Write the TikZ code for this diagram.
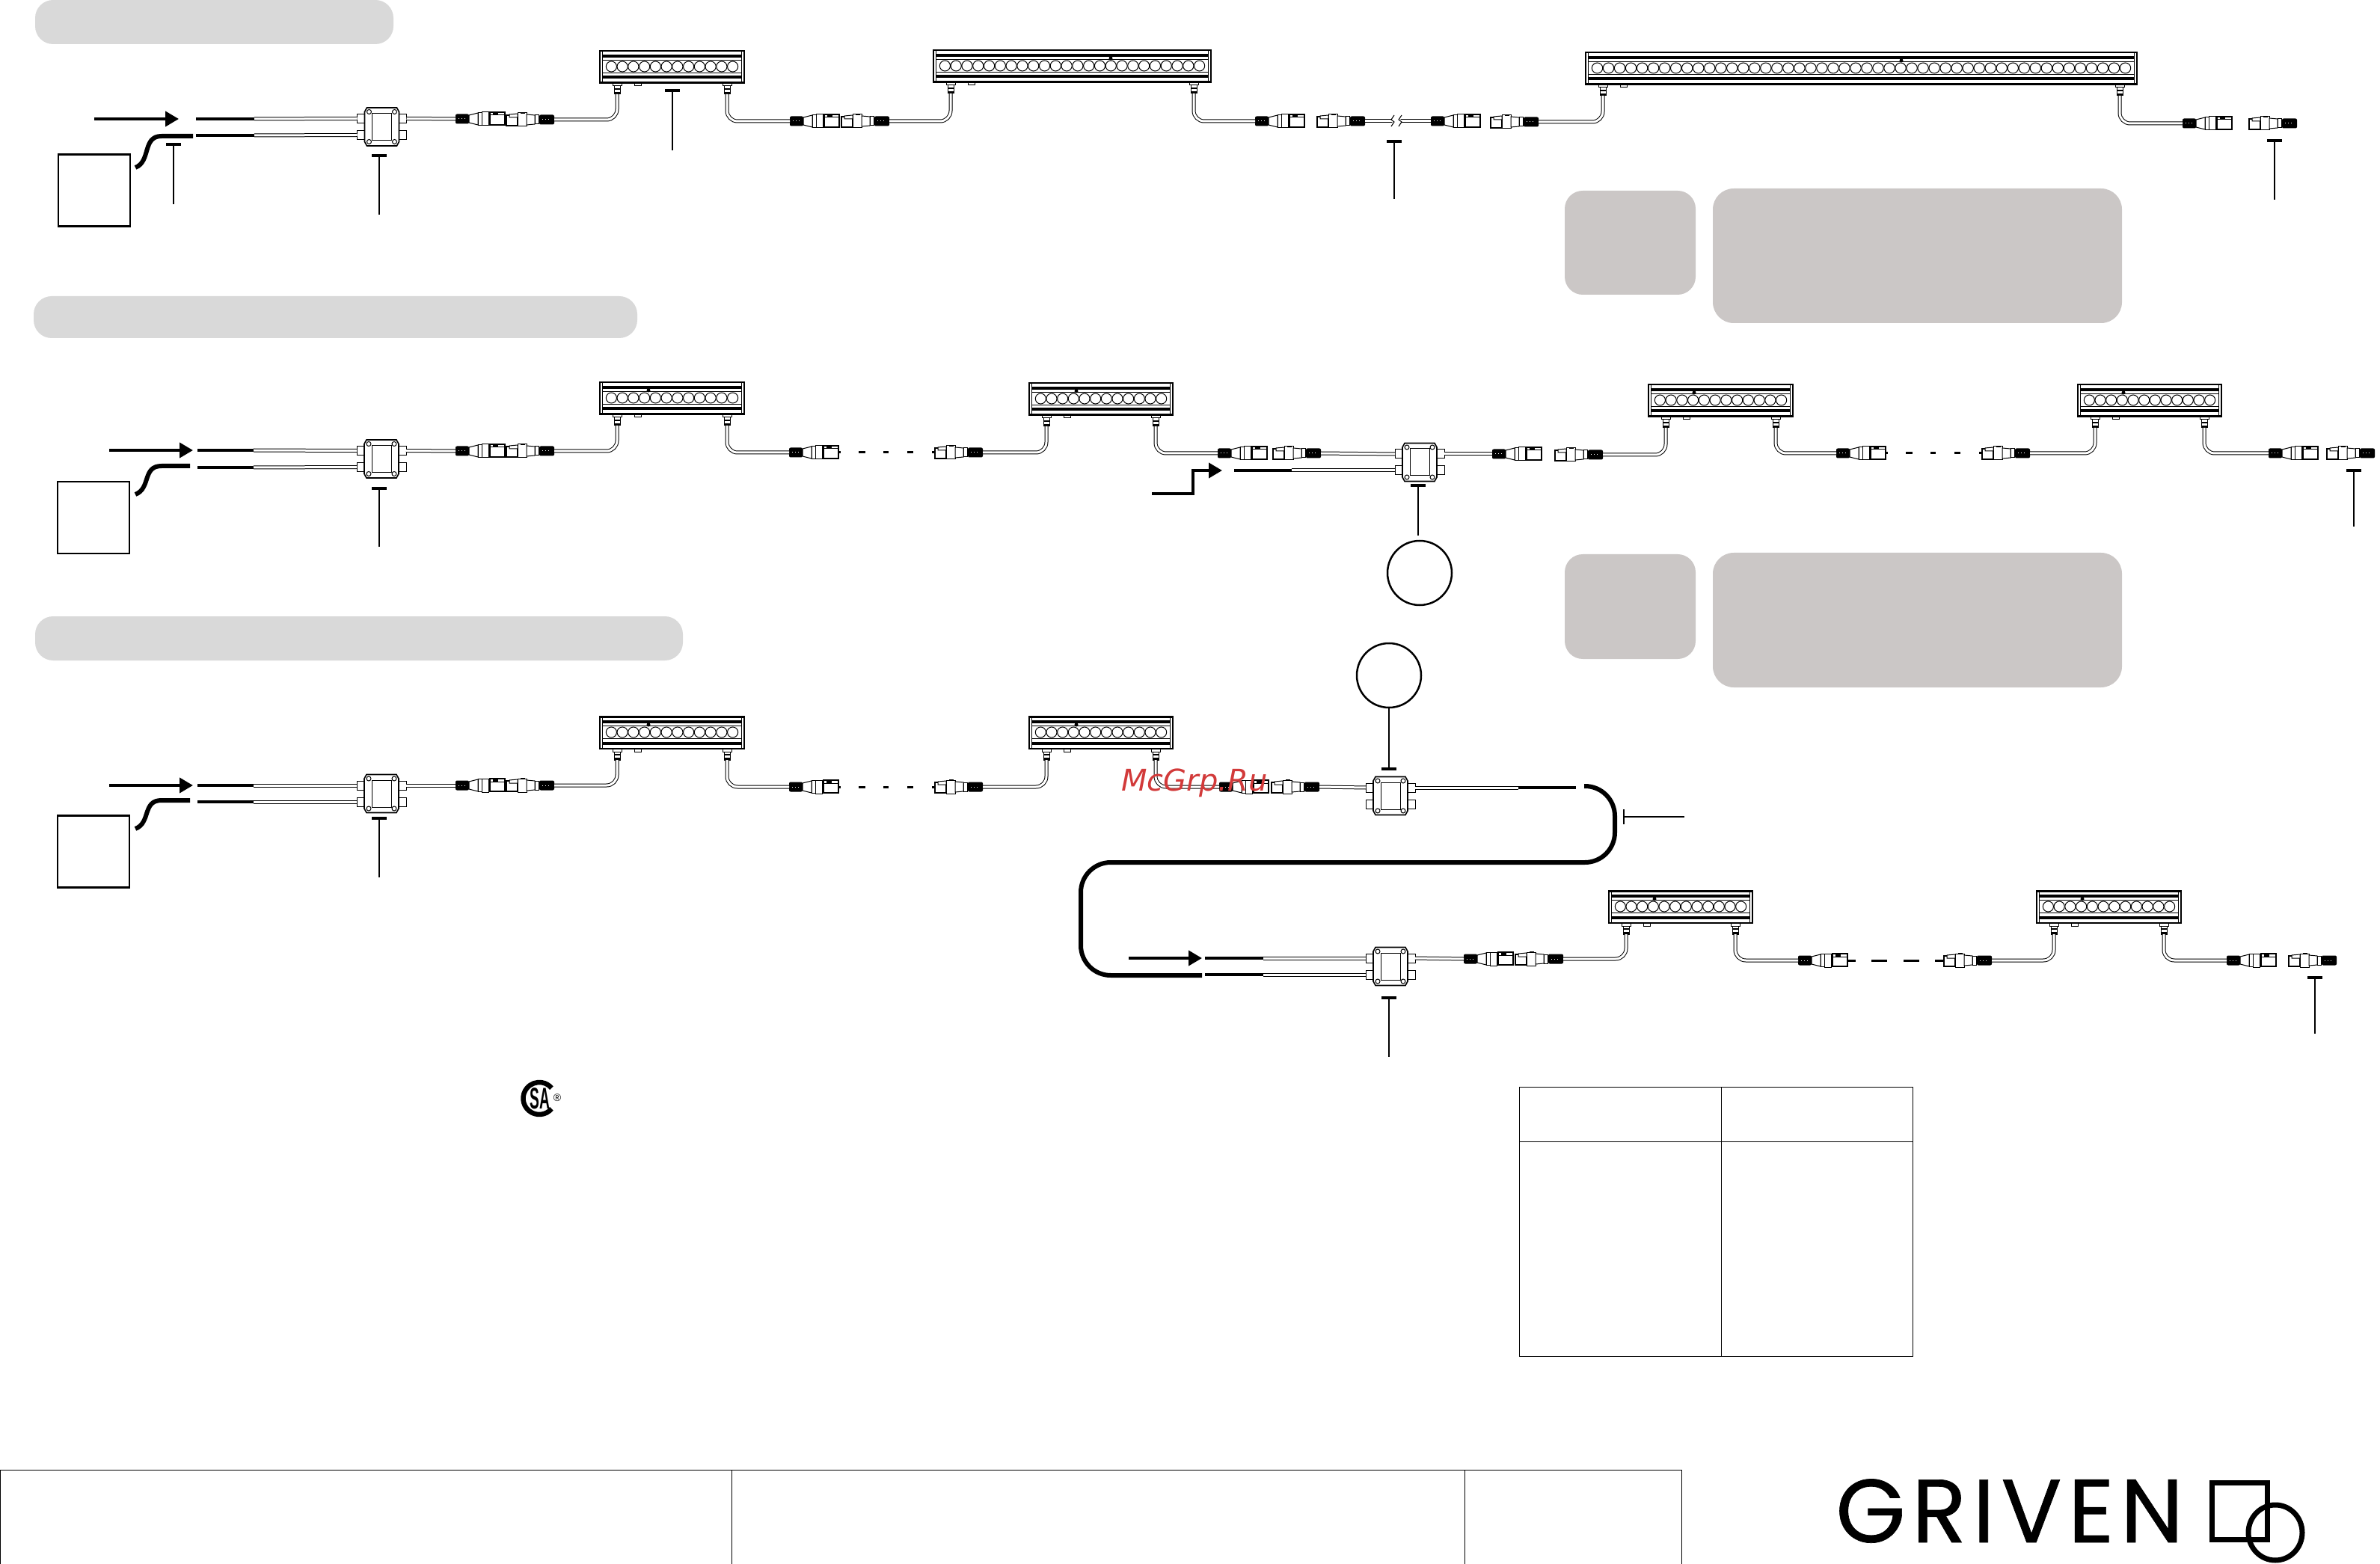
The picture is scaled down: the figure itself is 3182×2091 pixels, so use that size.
\documentclass[tikz,border=0pt]{standalone}
\usepackage{fontspec}
\setmainfont{Liberation Sans}
\newfontfamily\logofont[LetterSpace=7,FakeBold=0.6]{Poppins}
\newfontfamily\wmfont{DejaVu Sans}
\usetikzlibrary{arrows.meta,calc}
\definecolor{pillc}{HTML}{D9D9D9}
\definecolor{notec}{HTML}{CBC7C6}
\definecolor{wmc}{HTML}{D23A3A}
\tikzset{
  hair/.style={line width=.5pt,draw=black,fill=white},
  cable/.style={draw=black,line width=.5pt,double=white,double distance=1.5pt},
  tail/.style={draw=black,line width=2pt},
  pw/.style={draw=black,line width=3pt},
  arw/.style={draw=black,line width=2pt,-{Triangle[length=9pt,width=10pt]}},
  ldr/.style={draw=black,line width=1pt,{Bar[width=10pt,line width=2pt]}-},
  dashseg/.style={draw=black,line width=1.5pt},
  hoop/.style={circle,draw=black,line width=1.25pt,minimum size=43pt,inner sep=0pt},
  srcbox/.style={rectangle,draw=black,line width=1.25pt,minimum width=48pt,minimum height=48pt,inner sep=0pt},
  tline/.style={draw=black,line width=.5pt}
}
% male connector
\newcommand{\Mconn}[3]{%
\coordinate (#1in) at (#2,#3);\coordinate (#1out) at ($(#2,#3)+(66,0)$);
\begin{scope}[shift={(#2,#3)}]
\fill[black,rounded corners=1pt] (0,-6.5) rectangle (18,6.5);
\foreach \dx in {4,8,12}{\fill[white] (\dx,-.5) rectangle ++(1,1);}
\filldraw[hair] (18,-5) -- (30,-8) -- (30,8) -- (18,5) -- cycle;
\filldraw[hair] (30,-8.5) rectangle (35,8.5);
\filldraw[hair] (35,-9) rectangle (44,9);
\filldraw[hair,line width=.7pt] (46,-9) rectangle (66,8);
\draw[hair] (46,-5) -- (66,-5);
\fill[black] (50,-8.5) rectangle (57,-5.5);
\end{scope}}
% female connector
\newcommand{\Fconn}[3]{%
\coordinate (#1in) at (#2,#3);\coordinate (#1out) at ($(#2,#3)+(64,0)$);
\begin{scope}[shift={(#2,#3)}]
\filldraw[hair,line width=.8pt] (0,-6) rectangle (15,8);
\draw[hair] (4,-7) -- (15,-8) -- (15,-3) -- (4,-3) -- cycle;
\filldraw[hair] (15,-9) rectangle (27,9);
\fill[black] (19,-10) rectangle (25,-8);
\filldraw[hair] (27,-7) -- (38,-6) -- (38,6) -- (27,7) -- cycle;
\filldraw[hair] (38,-6) rectangle (43,6);
\fill[black,rounded corners=1pt] (44,-6.5) rectangle (64,6.5);
\foreach \dx in {48,52,56}{\fill[white] (\dx,-.5) rectangle ++(1,1);}
\end{scope}}
% junction box
\newcommand{\Jbox}[3]{%
\coordinate (#1L1) at ($(#2,#3)+(-33,-11)$);\coordinate (#1L2) at ($(#2,#3)+(-33,11)$);
\coordinate (#1R1) at ($(#2,#3)+(33,-11)$);\coordinate (#1R2) at ($(#2,#3)+(33,11)$);
\coordinate (#1T) at ($(#2,#3)+(-2,-25)$);\coordinate (#1B) at ($(#2,#3)+(-2,25)$);
\begin{scope}[shift={(#2,#3)}]
\foreach \yy in {-11,11}{
 \filldraw[hair] (-33,\yy-6) rectangle (-23,\yy+6);
 \filldraw[hair] (23,\yy-6) rectangle (33,\yy+6);}
\filldraw[hair,line width=.8pt] (-20,-25.5) -- (20,-25.5) -- (23,-20) -- (23,20) -- (20,25.5) -- (-20,25.5) -- (-23,20) -- (-23,-20) -- cycle;
\draw[hair] (-13,-18) rectangle (13,18);
\foreach \xx in {-17,17}\foreach \yy in {-20,20}{
 \filldraw[hair] (\xx,\yy) circle[radius=3];}
\end{scope}}
% fixture: name, x, y, width, leds, dot offset (0 = none)
\newcommand{\Fix}[6]{%
\coordinate (#1a) at ($(#2,#3)+(23,58)$);\coordinate (#1b) at ($(#2,#3)+(#4,0)+(-23,58)$);
\begin{scope}[shift={(#2,#3)}]
\foreach \sx in {23,#4-23}{
 \begin{scope}[shift={(\sx,0)}]
 \filldraw[hair] (-6,43) rectangle (6,47);
 \filldraw[hair] (-4,47) rectangle (4,58);
 \fill[black] (-4.5,50) rectangle (4.5,52);
 \fill[black] (-4.5,55) rectangle (4.5,58);
 \end{scope}}
\filldraw[hair] (46,43) rectangle (55,47);
\filldraw[hair,line width=.8pt] (0,0) rectangle (#4,43);
\draw[hair] (3.5,0) -- (3.5,43);
\draw[hair] (#4-3.5,0) -- (#4-3.5,43);
\fill[black] (0,0) rectangle (#4,1.5);
\fill[black] (0,41.5) rectangle (#4,43);
\fill[black] (3.5,5) rectangle (#4-3.5,9);
\draw[hair] (3.5,12.5) -- (#4-3.5,12.5);
\draw[hair] (3.5,29.5) -- (#4-3.5,29.5);
\fill[black] (3.5,33.5) rectangle (#4-3.5,37.5);
\pgfmathsetmacro{\ledstep}{(#4-16)/#5}
\pgfmathsetmacro{\ledrx}{\ledstep*.48}
\foreach \i in {1,...,#5}{
 \draw[hair] ({8+(\i-.5)*\ledstep},21) ellipse[x radius=\ledrx,y radius=7];}
\ifnum#6>0 \fill[black] (#6,11) circle[radius=2.5];\fi
\end{scope}}
\begin{document}
\begin{tikzpicture}[x=.5pt,y=-.5pt]
\useasboundingbox (0,0) rectangle (3182,2091);
% section bands
\fill[pillc,rounded corners=12pt] (47,0) rectangle (526,59);
\fill[pillc,rounded corners=12pt] (45,396) rectangle (852,452);
\fill[pillc,rounded corners=12pt] (47,824) rectangle (913,883);
% note panels
\fill[notec,rounded corners=12pt] (2092,255) rectangle (2267,394);
\fill[notec,rounded corners=14pt] (2290,252) rectangle (2837,432);
\fill[notec,rounded corners=12pt] (2092,741) rectangle (2267,881);
\fill[notec,rounded corners=14pt] (2290,739) rectangle (2837,919);

% ===== section 1 =====
\node[srcbox] (boxa) at (126,254.5) {};
\coordinate (pa1) at (181,224);\coordinate (pa2) at (258,182);
\draw[pw] (pa1) .. controls (202,216) and (190,182) .. (216,182) -- (pa2);
\coordinate (aa1) at (126,159);\coordinate (aa2) at (239,159);
\draw[arw] (aa1) -- (aa2);
\Jbox{ja}{510.5}{169.5}
\coordinate (ta1) at (262,159);\coordinate (ta2) at (340,159);
\coordinate (tb1) at (262,181);\coordinate (tb2) at (340,181);
\draw[tail] (ta1) -- (ta2);\draw[tail] (tb1) -- (tb2);
\draw[cable] (ta2) -- (jaL1);\draw[cable] (tb2) -- (jaL2);
\Mconn{ma1}{609}{159}\Fconn{fa1}{677}{160}
\draw[cable] (jaR1) -- (ma1in);
\Fix{xa1}{802}{68}{193}{12}{0}
\draw[cable,rounded corners=7pt] (fa1out) -| (xa1a);
\Mconn{ma2}{1056}{162}\Fconn{fa2}{1125}{162}
\draw[cable,rounded corners=7pt] (xa1b) |- (ma2in);
\Fix{xa2}{1248}{67}{371}{24}{237}
\draw[cable,rounded corners=7pt] (fa2out) -| (xa2a);
\Mconn{ma3}{1678}{162}\Fconn{fa3}{1761}{162}
\draw[cable,rounded corners=7pt] (xa2b) |- (ma3in);
\Mconn{ma4}{1913}{162}\Fconn{fa4}{1993}{163}
\coordinate (bk1) at (1862,162);\coordinate (bk2) at (1872,162);
\draw[cable] (fa3out) -- (bk1);\draw[cable] (bk2) -- (ma4in);
\draw[hair] ($(bk1)+(2,-8)$) -- ($(bk1)+(-2,-2)$) -- ($(bk1)+(2,1)$) -- ($(bk1)+(-2,7)$);
\draw[hair] ($(bk2)+(2,-8)$) -- ($(bk2)+(-2,-2)$) -- ($(bk2)+(2,1)$) -- ($(bk2)+(-2,7)$);
\Fix{xa3}{2120}{70}{737}{48}{422}
\draw[cable,rounded corners=7pt] (fa4out) -| (xa3a);
\Mconn{ma5}{2918}{165}\Fconn{fa5}{3007}{165}
\draw[cable,rounded corners=7pt] (xa3b) |- (ma5in);
% leaders section 1
\coordinate (la1) at (232,191);\coordinate (la2) at (232,273);\draw[ldr] (la1) -- (la2);
\coordinate (la3) at (507,206);\coordinate (la4) at (507,287);\draw[ldr] (la3) -- (la4);
\coordinate (la5) at (899,119);\coordinate (la6) at (899,201);\draw[ldr] (la5) -- (la6);
\coordinate (la7) at (1864,187);\coordinate (la8) at (1864,266);\draw[ldr] (la7) -- (la8);
\coordinate (la9) at (3041,186);\coordinate (la10) at (3041,267);\draw[ldr] (la9) -- (la10);

% ===== section 2 =====
\node[srcbox] (boxb) at (125,692) {};
\coordinate (pb1) at (181,661);\coordinate (pb2) at (254,623);
\draw[pw] (pb1) .. controls (202,653) and (190,623) .. (216,623) -- (pb2);
\coordinate (ab1) at (146,602);\coordinate (ab2) at (258,602);
\draw[arw] (ab1) -- (ab2);
\Jbox{jb}{510}{613.5}
\coordinate (tc1) at (264,602);\coordinate (tc2) at (339,602);
\coordinate (td1) at (264,625);\coordinate (td2) at (339,625);
\draw[tail] (tc1) -- (tc2);\draw[tail] (td1) -- (td2);
\draw[cable] (tc2) -- (jbL1);\draw[cable] (td2) -- (jbL2);
\Mconn{mb1}{609}{603}\Fconn{fb1}{677}{603}
\draw[cable] (jbR1) -- (mb1in);
\Fix{xb1}{802}{511}{193}{12}{65}
\draw[cable,rounded corners=7pt] (fb1out) -| (xb1a);
\Mconn{mb2}{1055}{605}\Fconn{fb2}{1250}{605}
\draw[cable,rounded corners=7pt] (xb1b) |- (mb2in);
\foreach \u/\v in {1121/1124,1148/1157,1181/1188,1213/1221,1246/1250}{\draw[dashseg] (\u,605) -- (\v,605);}
\Fix{xb2}{1376}{512}{192}{12}{63}
\draw[cable,rounded corners=7pt] (fb2out) -| (xb2a);
\Mconn{mb3}{1628}{606}\Fconn{fb3}{1702}{606}
\draw[cable,rounded corners=7pt] (xb2b) |- (mb3in);
\Jbox{jc}{1898}{618}
\draw[cable] (fb3out) -- (jcL1);
\coordinate (te1) at (1650,629);\coordinate (te2) at (1727,629);
\draw[tail] (te1) -- (te2);\draw[cable] (te2) -- (jcL2);
\coordinate (ac1) at (1540,660);\coordinate (ac2) at (1634,629);
\draw[arw] (ac1) -- (1595,660) -- (1595,629) -- (ac2);
\Mconn{mb4}{1995}{607}\Fconn{fb4}{2079}{608}
\draw[cable] (jcR1) -- (mb4in);
\Fix{xb3}{2204}{514}{193}{12}{61}
\draw[cable,rounded corners=7pt] (fb4out) -| (xb3a);
\Mconn{mb5}{2455}{606}\Fconn{fb5}{2650}{606}
\draw[cable,rounded corners=7pt] (xb3b) |- (mb5in);
\foreach \u/\v in {2521/2524,2548/2557,2581/2588,2613/2621,2646/2650}{\draw[dashseg] (\u,606) -- (\v,606);}
\Fix{xb4}{2778}{514}{192}{12}{61}
\draw[cable,rounded corners=7pt] (fb5out) -| (xb4a);
\Mconn{mb6}{3033}{606}\Fconn{fb6}{3111}{606}
\draw[cable,rounded corners=7pt] (xb4b) |- (mb6in);
\coordinate (lb1) at (507,651);\coordinate (lb2) at (507,731);\draw[ldr] (lb1) -- (lb2);
\coordinate (lb3) at (1896,647);\node[hoop] (hoopa) at (1898,766) {};
\draw[ldr,shorten >=3pt] (lb3) -- (lb3 |- hoopa.north);
\coordinate (lb5) at (3147,627);\coordinate (lb6) at (3147,704);\draw[ldr] (lb5) -- (lb6);

% ===== section 3 =====
\node[srcbox] (boxc) at (125,1138.5) {};
\coordinate (pc1) at (181,1108);\coordinate (pc2) at (254,1070);
\draw[pw] (pc1) .. controls (202,1100) and (190,1070) .. (216,1070) -- (pc2);
\coordinate (ad1) at (146,1050);\coordinate (ad2) at (258,1050);
\draw[arw] (ad1) -- (ad2);
\Jbox{jd}{510}{1061}
\coordinate (tf1) at (264,1050);\coordinate (tf2) at (339,1050);
\coordinate (tg1) at (264,1072);\coordinate (tg2) at (339,1072);
\draw[tail] (tf1) -- (tf2);\draw[tail] (tg1) -- (tg2);
\draw[cable] (tf2) -- (jdL1);\draw[cable] (tg2) -- (jdL2);
\Mconn{mc1}{609}{1050}\Fconn{fc1}{677}{1050}
\draw[cable] (jdR1) -- (mc1in);
\Fix{xc1}{802}{958}{193}{12}{65}
\draw[cable,rounded corners=7pt] (fc1out) -| (xc1a);
\Mconn{mc2}{1055}{1052}\Fconn{fc2}{1250}{1052}
\draw[cable,rounded corners=7pt] (xc1b) |- (mc2in);
\foreach \u/\v in {1121/1124,1148/1157,1181/1188,1213/1221,1246/1250}{\draw[dashseg] (\u,1052) -- (\v,1052);}
\Fix{xc2}{1376}{958}{192}{12}{63}
\draw[cable,rounded corners=7pt] (fc2out) -| (xc2a);
\Mconn{mc3}{1630}{1052}\Fconn{fc3}{1700}{1052}
\draw[cable,rounded corners=7pt] (xc2b) |- (mc3in);
\Jbox{je}{1859}{1064}
\draw[cable] (fc3out) -- (jeL1);
\coordinate (th1) at (2030,1053);\coordinate (th2) at (2107,1053);
\draw[cable] (jeR1) -- (th1);\draw[tail] (th1) -- (th2);
% long return cable
\coordinate (rc1) at (2118,1051);\coordinate (rc2) at (1607,1304);
\draw[pw,rounded corners=20pt] (rc1) -| (2159,1153) -| (1445,1304) -- (rc2);
\coordinate (tk1) at (2170,1092);\coordinate (tk2) at (2252,1092);
\draw[draw=black,line width=1pt,{Bar[width=10pt,line width=1pt]}-] (tk1) -- (tk2);
\node[hoop] (hoopb) at (1857,903) {};
\coordinate (le1) at (1857,1030);
\draw[ldr] (le1) -- (hoopb.south);
% lower run
\coordinate (ae1) at (1509,1281);\coordinate (ae2) at (1607,1281);
\draw[arw] (ae1) -- (ae2);
\Jbox{jf}{1859}{1292}
\coordinate (tm1) at (1611,1281);\coordinate (tm2) at (1689,1281);
\coordinate (tn1) at (1611,1303);\coordinate (tn2) at (1689,1303);
\draw[tail] (tm1) -- (tm2);\draw[tail] (tn1) -- (tn2);
\draw[cable] (tm2) -- (jfL1);\draw[cable] (tn2) -- (jfL2);
\Mconn{mc4}{1957}{1282}\Fconn{fc4}{2026}{1282}
\draw[cable] (jfR1) -- (mc4in);
\Fix{xc3}{2151}{1191}{192}{12}{61}
\draw[cable,rounded corners=7pt] (fc4out) -| (xc3a);
\Mconn{mc5}{2404}{1284}\Fconn{fc5}{2599}{1284}
\draw[cable,rounded corners=7pt] (xc3b) |- (mc5in);
\foreach \u/\v in {2470/2481,2502/2523,2545/2566,2587/2599}{\draw[dashseg] (\u,1284) -- (\v,1284);}
\Fix{xc4}{2723}{1191}{193}{12}{61}
\draw[cable,rounded corners=7pt] (fc5out) -| (xc4a);
\Mconn{mc6}{2977}{1284}\Fconn{fc6}{3060}{1284}
\draw[cable,rounded corners=7pt] (xc4b) |- (mc6in);
\coordinate (lc1) at (507,1092);\coordinate (lc2) at (507,1173);\draw[ldr] (lc1) -- (lc2);
\coordinate (lc3) at (1857,1332);\coordinate (lc4) at (1857,1413);\draw[ldr] (lc3) -- (lc4);
\coordinate (lc5) at (3095,1305);\coordinate (lc6) at (3095,1382);\draw[ldr] (lc5) -- (lc6);

% CSA mark
\draw[black,line width=3.25pt] ([shift={(40:21.5)}]721,1468.5) arc[start angle=40,end angle=320,radius=21.5];
\node[inner sep=0pt,font=\fontsize{20pt}{20pt}\selectfont\bfseries] (csa) at (722,1469) {\scalebox{.48}[1]{SA}};
\node[inner sep=0pt,font=\fontsize{7pt}{7pt}\selectfont] (csar) at (745,1468) {®};

% small table
\draw[tline] (2031,1453) rectangle (2557,1813);
\draw[tline] (2031,1526) -- (2557,1526);
\draw[tline] (2301,1453) -- (2301,1813);
% title block
\draw[tline] (0,1965) rectangle (2248,2091);
\draw[tline] (978,1965) -- (978,2091);
\draw[tline] (1958,1965) -- (1958,2091);

% logo
\node[inner sep=0pt,anchor=base west,font=\logofont\fontsize{60pt}{60pt}\selectfont] (logo) at (2454,2062) {GRIVEN};
\draw[black,line width=3.5pt] (2957,1982) rectangle (3031,2058);
\draw[black,line width=3.5pt] (3042,2049) ellipse[x radius=36,y radius=37];

% watermark
\node[inner sep=0pt,text=wmc,font=\wmfont\itshape\fontsize{20pt}{20pt}\selectfont] (wm) at (1597,1047) {McGrp.Ru};
\end{tikzpicture}
\end{document}
